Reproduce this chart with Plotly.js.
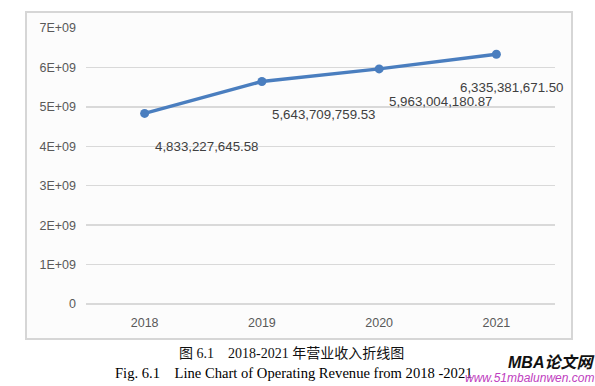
<!DOCTYPE html>
<html>
<head>
<meta charset="utf-8">
<script src="https://cdn.plot.ly/plotly-3.0.1.min.js"></script>
<style>html,body{margin:0;padding:0;background:#fff;}#chart{width:595px;height:386px;}</style>
</head>
<body>
<div id="chart"></div>
<script>
const years = ['2018', '2019', '2020', '2021'];
const revenue = [4833227645.58, 5643709759.53, 5963004180.87, 6335381671.50];
const revenueLabels = ['4,833,227,645.58', '5,643,709,759.53', '5,963,004,180.87', '6,335,381,671.50'];
const yTickVals = [0, 1e9, 2e9, 3e9, 4e9, 5e9, 6e9, 7e9];
const yTickText = ['0', '1E+09', '2E+09', '3E+09', '4E+09', '5E+09', '6E+09', '7E+09'];
const captionCN = '图 6.1\u00a0\u00a0\u00a0\u00a02018-2021 年营业收入折线图';
const captionEN = 'Fig. 6.1\u00a0\u00a0\u00a0\u00a0Line Chart of Operating Revenue from 2018 -2021';

// plot area in pixels
const L = 86, R = 555, T = 28, B = 304;
const W = 595, H = 386;
const px = x => (x - L) / (R - L);
const py = y => (B - y) / (B - T);

const labelShift = [[62, -33], [62, -33], [62, -33], [16, -33]];

const annotations = revenueLabels.map((t, i) => ({
  x: i, y: revenue[i], xref: 'x', yref: 'y', text: t, showarrow: false,
  xanchor: 'center', yanchor: 'middle',
  xshift: labelShift[i][0], yshift: labelShift[i][1],
  font: {family: 'Liberation Sans, Arial, sans-serif', size: 13.3, color: '#404040'}
}));
annotations.push(
  {xref: 'paper', yref: 'paper', x: px(291), y: py(353), xanchor: 'center', yanchor: 'middle',
   text: captionCN, showarrow: false,
   font: {family: 'Liberation Serif, Noto Sans CJK SC, serif', size: 14, color: '#111'}},
  {xref: 'paper', yref: 'paper', x: px(293), y: py(373), xanchor: 'center', yanchor: 'middle',
   text: captionEN, showarrow: false,
   font: {family: 'Liberation Serif, Times New Roman, serif', size: 14.6, color: '#000'}},
  {xref: 'paper', yref: 'paper', x: px(551), y: py(362), xanchor: 'center', yanchor: 'middle',
   text: '<b><i>MBA论文网</i></b>', showarrow: false,
   font: {family: 'Liberation Sans, Noto Sans CJK SC, sans-serif', size: 16, color: '#111'}},
  {xref: 'paper', yref: 'paper', x: px(529), y: py(378), xanchor: 'center', yanchor: 'middle',
   text: '<i>www.51mbalunwen.com</i>', showarrow: false,
   font: {family: 'Liberation Sans, Arial, sans-serif', size: 12, color: '#c040c0'}}
);

const trace = {
  x: years, y: revenue, type: 'scatter', mode: 'lines+markers',
  line: {color: '#4a7ebf', width: 3.4},
  marker: {color: '#4a7ebf', size: 9},
  hoverinfo: 'skip', cliponaxis: false
};

const layout = {
  width: W, height: H,
  margin: {l: L, r: W - R, t: T, b: H - B, pad: 0},
  paper_bgcolor: '#ffffff', plot_bgcolor: 'rgba(0,0,0,0)',
  showlegend: false,
  xaxis: {
    type: 'category', range: [-0.5, 3.5], showgrid: false, zeroline: false, showline: false,
    ticks: '', ticklabelstandoff: 9,
    tickfont: {family: 'Liberation Sans, Arial, sans-serif', size: 12.5, color: '#595959'}
  },
  yaxis: {
    range: [0, 7e9], tickvals: yTickVals, ticktext: yTickText,
    showgrid: true, gridcolor: '#d9d9d9', gridwidth: 1.3,
    zeroline: true, zerolinecolor: '#d9d9d9', zerolinewidth: 1.3, showline: false,
    ticks: '', ticklabelstandoff: 9,
    tickfont: {family: 'Liberation Sans, Arial, sans-serif', size: 12.5, color: '#595959'}
  },
  shapes: [{
    type: 'rect', xref: 'paper', yref: 'paper', layer: 'below',
    x0: px(26), x1: px(572), y0: py(339), y1: py(12),
    line: {color: '#d6d6d6', width: 2}, fillcolor: '#fcfcfc'
  }],
  annotations: annotations
};

Plotly.newPlot('chart', [trace], layout, {staticPlot: true, displayModeBar: false});
</script>
</body>
</html>
